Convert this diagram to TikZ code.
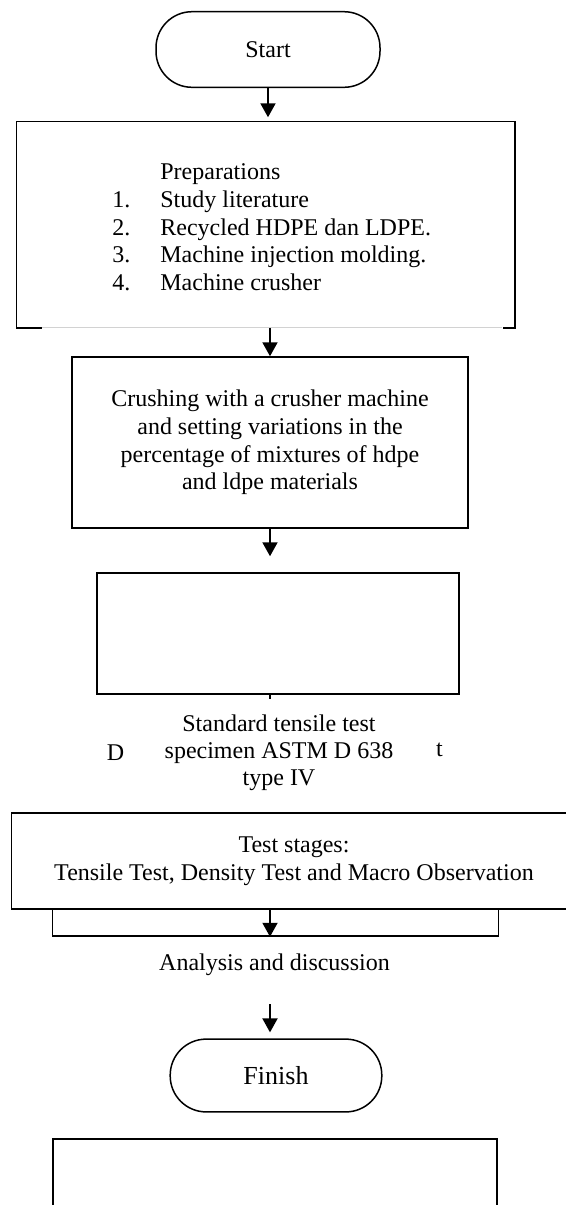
\documentclass[tikz,border=0pt]{standalone}
\usepackage{fontspec}
\setmainfont{Liberation Serif}
\usetikzlibrary{arrows.meta}

\tikzset{
  box/.style={draw, line width=0.75pt, inner sep=0pt, align=center, font=\fontsize{12}{13.8}\selectfont},
  term/.style={box, rounded corners=18pt},
  txt/.style={inner sep=0pt, align=center, font=\fontsize{12}{13.8}\selectfont},
  flow/.style={->, line width=1pt},
}

\begin{document}
\begin{tikzpicture}[x=0.5pt, y=-0.5pt, >={Triangle[width=7.5pt,length=7pt]}]
  \useasboundingbox (0,0) rectangle (566,1205);
  \clip (0,0) rectangle (566,1205);

  \node[term, minimum width=112pt, minimum height=37.8pt] (start) at (268,49.5) {Start};
  \node[box, draw=none, minimum width=248.5pt, minimum height=102.5pt] (prep) at (265.5,224.5) {};
  \node[txt, anchor=west] (preptxt) at (112,229.5) {%
    \begin{tabular}{@{}p{24pt}@{}l@{}}
      & Preparations\\
      1. & Study literature\\
      2. & Recycled HDPE dan LDPE.\\
      3. & Machine injection molding.\\
      4. & Machine crusher
    \end{tabular}};
  \node[box, minimum width=198pt, minimum height=85.5pt] (crush) at (270,442.5)
    {Crushing with a crusher machine\\and setting variations in the\\percentage of mixtures of hdpe\\and ldpe materials};
  \node[box, minimum width=181pt, minimum height=60.5pt] (spec) at (278,633.5) {};
  \node[txt, font=\fontsize{12}{13.4}\selectfont] (spectxt) at (279,752.5) {Standard tensile test\\specimen ASTM D 638\\type IV};
  \node[txt] (specl) at (115.5,753) {D};
  \node[txt] (specr) at (439.5,750) {t};
  \node[box, minimum width=282.5pt, minimum height=48pt, font=\fontsize{12}{14.2}\selectfont] (stages) at (294,861)
    {Test stages:\\Tensile Test, Density Test and Macro Observation};
  \node[box, minimum width=223.2pt, minimum height=13.5pt] (bracket) at (275.5,922.5) {};
  \node[txt] (ana) at (274.5,965) {Analysis and discussion};
  \node[term, minimum width=105.8pt, minimum height=36.4pt, font=\fontsize{13}{15}\selectfont] (finish) at (276,1075.5) {Finish};
  \node[box, line width=1pt, minimum width=222pt, minimum height=60pt, anchor=north west] (last) at (52.3,1138) {};

  % preparations box, open at the bottom
  \draw[line width=0.75pt] (prep.south west) ++(25.7,0) -- (prep.south west) -- (prep.north west)
    -- (prep.north east) -- (prep.south east) -- ++(-11.3,0);
  \draw[gray!35, line width=0.4pt] (prep.south west) ++(25.7,0) -- ++(460.3,0);

  \path[flow] (start.south) edge[shorten >=2pt] (start.south |- prep.north);
  \path[flow] (crush.north |- prep.south) edge (crush.north);
  \path[flow] (crush.south) edge[shorten >=8pt] (crush.south |- spec.north);
  \draw[line width=1pt] (crush.south |- spec.south) -- ++(0,4);
  \path[flow] (crush.south |- stages.south) edge (crush.south |- bracket.south);
  \coordinate (anaout) at (270,1004);
  \path[flow] (anaout) edge[shorten >=3pt] (anaout |- finish.north);
\end{tikzpicture}
\end{document}
